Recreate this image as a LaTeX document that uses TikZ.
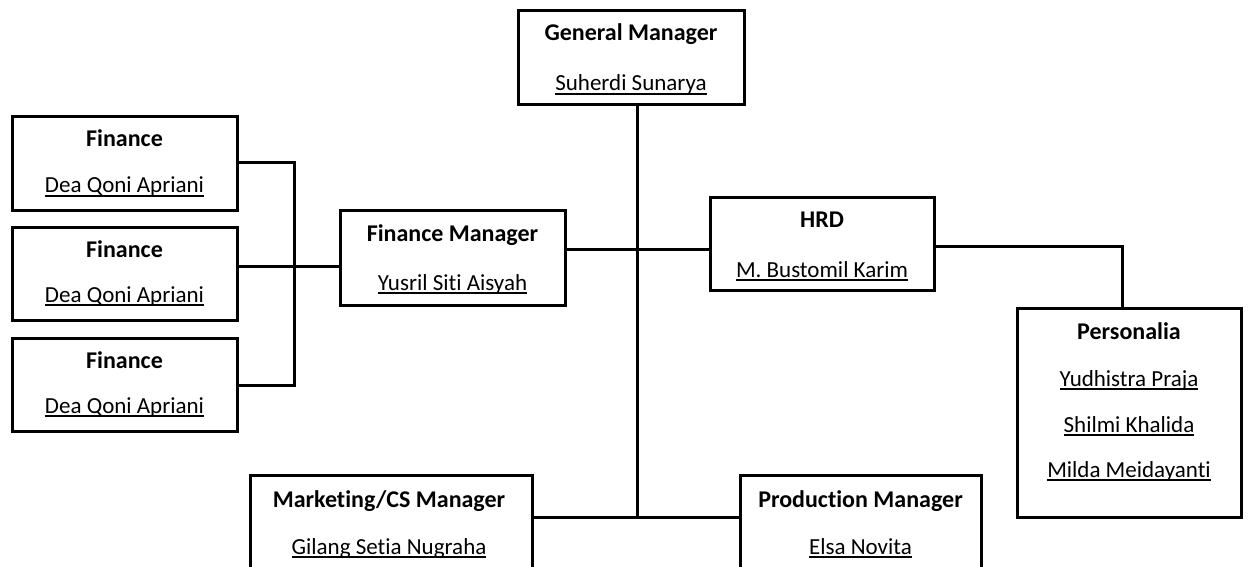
\documentclass[tikz,border=0pt]{standalone}
\usepackage{fontspec}
\setmainfont{Carlito}[Ligatures=NoCommon]
\newcommand\ulname[1]{\setbox0\hbox{#1}\rlap{\vrule height -2.4pt depth 4.2pt width \wd0}\box0}
\begin{document}
\begin{tikzpicture}[x=1pt,y=-1pt,
  box/.style={draw, line width=3pt, rectangle, inner sep=0pt, fill=white},
  title/.style={anchor=base, font=\fontsize{24}{28}\selectfont\bfseries, inner sep=0pt},
  pname/.style={anchor=base, font=\fontsize{23}{27}\selectfont, inner sep=0pt},
  conn/.style={line width=3pt}]
\useasboundingbox (0,0) rectangle (1248,567);
\clip (0,0) rectangle (1248,567);
% boxes
\node[box, minimum width=226pt, minimum height=94pt] (gm) at (631,58) {};
\node[box, minimum width=225pt, minimum height=93pt] (f1) at (124.5,163.5) {};
\node[box, minimum width=225pt, minimum height=93pt] (f2) at (124.5,273.5) {};
\node[box, minimum width=225pt, minimum height=93pt] (f3) at (124.5,384.5) {};
\node[box, minimum width=225pt, minimum height=95pt] (fm) at (452.5,257.5) {};
\node[box, minimum width=224pt, minimum height=93pt] (hrd) at (822,243.5) {};
\node[box, minimum width=224pt, minimum height=209pt] (pers) at (1129,412.5) {};
\node[box, minimum width=282pt, minimum height=145pt] (mkt) at (391,547.5) {};
\node[box, minimum width=241pt, minimum height=145pt] (prod) at (860.5,547.5) {};
% texts
\node[title] (gmt) at (631,41) {General Manager};
\node[pname] (gmn) at (631,91) {\ulname{Suherdi Sunarya}};
\node[title] (f1t) at (124.5,147) {Finance};
\node[pname] (f1n) at (124.5,193) {\ulname{Dea Qoni Apriani}};
\node[title] (f2t) at (124.5,257) {Finance};
\node[pname] (f2n) at (124.5,302) {\ulname{Dea Qoni Apriani}};
\node[title] (f3t) at (124.5,368) {Finance};
\node[pname] (f3n) at (124.5,413) {\ulname{Dea Qoni Apriani}};
\node[title] (fmt) at (452.5,241) {Finance Manager};
\node[pname] (fmn) at (452.5,290) {\ulname{Yusril Siti Aisyah}};
\node[title] (hrdt) at (822,227) {HRD};
\node[pname] (hrdn) at (822,277) {\ulname{M. Bustomil Karim}};
\node[title] (perst) at (1129,339) {Personalia};
\node[pname] (pn1) at (1129,386) {\ulname{Yudhistra Praja}};
\node[pname] (pn2) at (1129,432) {\ulname{Shilmi Khalida}};
\node[pname] (pn3) at (1129,477) {\ulname{Milda Meidayanti}};
\node[title] (mktt) at (389,507) {Marketing/CS Manager};
\node[pname] (mktn) at (389,554) {\ulname{Gilang Setia Nugraha}};
\node[title] (prodt) at (860.5,507) {Production Manager};
\node[pname] (prodn) at (860.5,554) {\ulname{Elsa Novita}};
% junctions
\coordinate (j1) at (637,249);
\coordinate (j2) at (637,517);
\coordinate (b1) at (294,163);
\coordinate (b2) at (294,266);
\coordinate (b3) at (294,385);
\coordinate (h1) at (1122,246);
% connectors
\draw[conn] (gm.south -| j1) -- (j2);
\draw[conn] (fm.east |- j1) -- (hrd.west |- j1);
\draw[conn] (mkt.east |- j2) -- (prod.west |- j2);
\draw[conn] (f1.east |- b1) -- (b1) -- (b3) -- (f3.east |- b3);
\draw[conn] (f2.east |- b2) -- (fm.west |- b2);
\draw[conn] (hrd.east |- h1) -- (h1) -- (h1 |- pers.north);
\end{tikzpicture}
\end{document}
